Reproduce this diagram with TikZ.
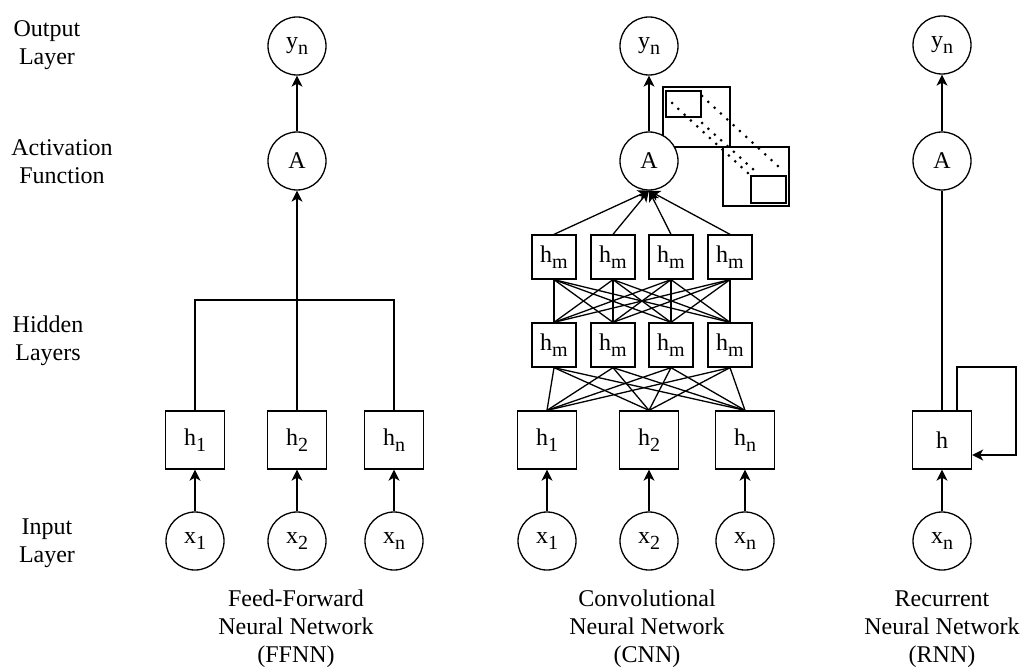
\documentclass[tikz,border=0pt]{standalone}
\usepackage{fontspec}
\setmainfont{Liberation Serif}
\usetikzlibrary{arrows.meta}

% lowered, smaller index as used in the unit labels
\newcommand{\lowsub}[1]{\raisebox{-6.5pt}{\fontsize{20}{20}\selectfont #1}}

\tikzset{
  base/.style={draw, line width=1.3pt, fill=white, inner sep=0pt,
    font=\fontsize{24}{26}\selectfont},
  neuron/.style={base, circle, minimum size=58pt},
  unitbox/.style={base, rectangle, minimum width=59pt, minimum height=58pt},
  smallbox/.style={base, rectangle, minimum size=44pt},
  conn/.style={line width=1.3pt},
  arr/.style={conn, -{Stealth[length=11pt, width=11pt, inset=3pt]}},
  caption/.style={align=center, font=\fontsize{24}{28}\selectfont, inner sep=0pt},
  kernel/.style={line width=1.3pt},
  dots/.style={line width=3pt, line cap=round, dash pattern=on 0pt off 8.6pt},
}

\begin{document}
\begin{tikzpicture}[x=1pt, y=-1pt]
\useasboundingbox (0,0) rectangle (1025,671);

% ---------- row captions ----------
\node[caption] (lout) at (47,45)  {Output\\Layer};
\node[caption] (lact) at (62,162) {Activation\\Function};
\node[caption] (lhid) at (48,341) {Hidden\\Layers};
\node[caption] (linp) at (47,543) {Input\\Layer};

% ---------- convolution kernel sketch ----------
\draw[kernel] (663,87) rectangle (730,147);
\draw[kernel] (666,91) rectangle (701,117);
\draw[kernel] (723,147) rectangle (789,206);
\draw[kernel] (751,176) rectangle (786,203);
\draw[dots] (672,103) -- (750,175);
\draw[dots] (702,96) -- (781,169);
\draw[dots] (702,123) -- (755,171);

% ---------- feed-forward network ----------
\node[neuron] (fx1) at (195,541) {x\lowsub{1}};
\node[neuron] (fx2) at (297,541) {x\lowsub{2}};
\node[neuron] (fxn) at (394,541) {x\lowsub{n}};
\node[unitbox] (fh1) at (195,440) {h\lowsub{1}};
\node[unitbox] (fh2) at (297,440) {h\lowsub{2}};
\node[unitbox] (fhn) at (394,440) {h\lowsub{n}};
\node[neuron] (fa) at (297,161) {A};
\node[neuron] (fy) at (297,46) {y\lowsub{n}};
\coordinate (fj) at (297,300);

% ---------- convolutional network ----------
\node[neuron] (cx1) at (547,541) {x\lowsub{1}};
\node[neuron] (cx2) at (649,541) {x\lowsub{2}};
\node[neuron] (cxn) at (745,541) {x\lowsub{n}};
\node[unitbox] (ch1) at (547,440) {h\lowsub{1}};
\node[unitbox] (ch2) at (649,440) {h\lowsub{2}};
\node[unitbox] (chn) at (745,440) {h\lowsub{n}};
\foreach \i/\x in {1/554,2/613,3/671,4/730} {
  \node[smallbox] (cl\i) at (\x,345) {h\lowsub{m}};
  \node[smallbox] (cu\i) at (\x,257) {h\lowsub{m}};
}
\node[neuron] (ca) at (649,161) {A};
\node[neuron] (cy) at (649,46) {y\lowsub{n}};

% ---------- recurrent network ----------
\node[neuron] (rx) at (942,541) {x\lowsub{n}};
\node[unitbox] (rh) at (942,440) {h};
\node[neuron] (ra) at (942,161) {A};
\node[neuron] (ry) at (942,45) {y\lowsub{n}};
\coordinate (rloop) at (1016,367);

% ---------- column captions ----------
\node[caption] (cf) at (296,629) {Feed-Forward\\Neural Network\\(FFNN)};
\node[caption] (cc) at (647,629) {Convolutional\\Neural Network\\(CNN)};
\node[caption] (cr) at (942,629) {Recurrent\\Neural Network\\(RNN)};

% ---------- connectors: feed-forward ----------
\draw[arr] (fx1) -- (fh1);
\draw[arr] (fx2) -- (fh2);
\draw[arr] (fxn) -- (fhn);
\draw[conn] (fh1.north) |- (fj);
\draw[conn] (fhn.north) |- (fj);
\draw[arr] (fh2.north) -- (fa.south);
\draw[arr] (fa) -- (fy);

% ---------- connectors: convolutional ----------
\draw[arr] (cx1) -- (ch1);
\draw[arr] (cx2) -- (ch2);
\draw[arr] (cxn) -- (chn);
\foreach \i in {1,...,4} {
  \foreach \j in {ch1,ch2,chn} { \draw[conn] (cl\i.south) -- (\j.north); }
  \foreach \j in {1,...,4} { \draw[conn] (cu\i.south) -- (cl\j.north); }
  \draw[arr] (cu\i.north) -- (ca.south);
}
\draw[arr] (ca) -- (cy);

% ---------- connectors: recurrent ----------
\draw[arr] (rx) -- (rh);
\draw[conn] (rh.north) -- (ra.south);
\draw[arr] (ra) -- (ry);
\draw[arr] ([xshift=15pt]rh.north) |- (rloop) |- ([yshift=-15pt]rh.east);
\end{tikzpicture}
\end{document}
